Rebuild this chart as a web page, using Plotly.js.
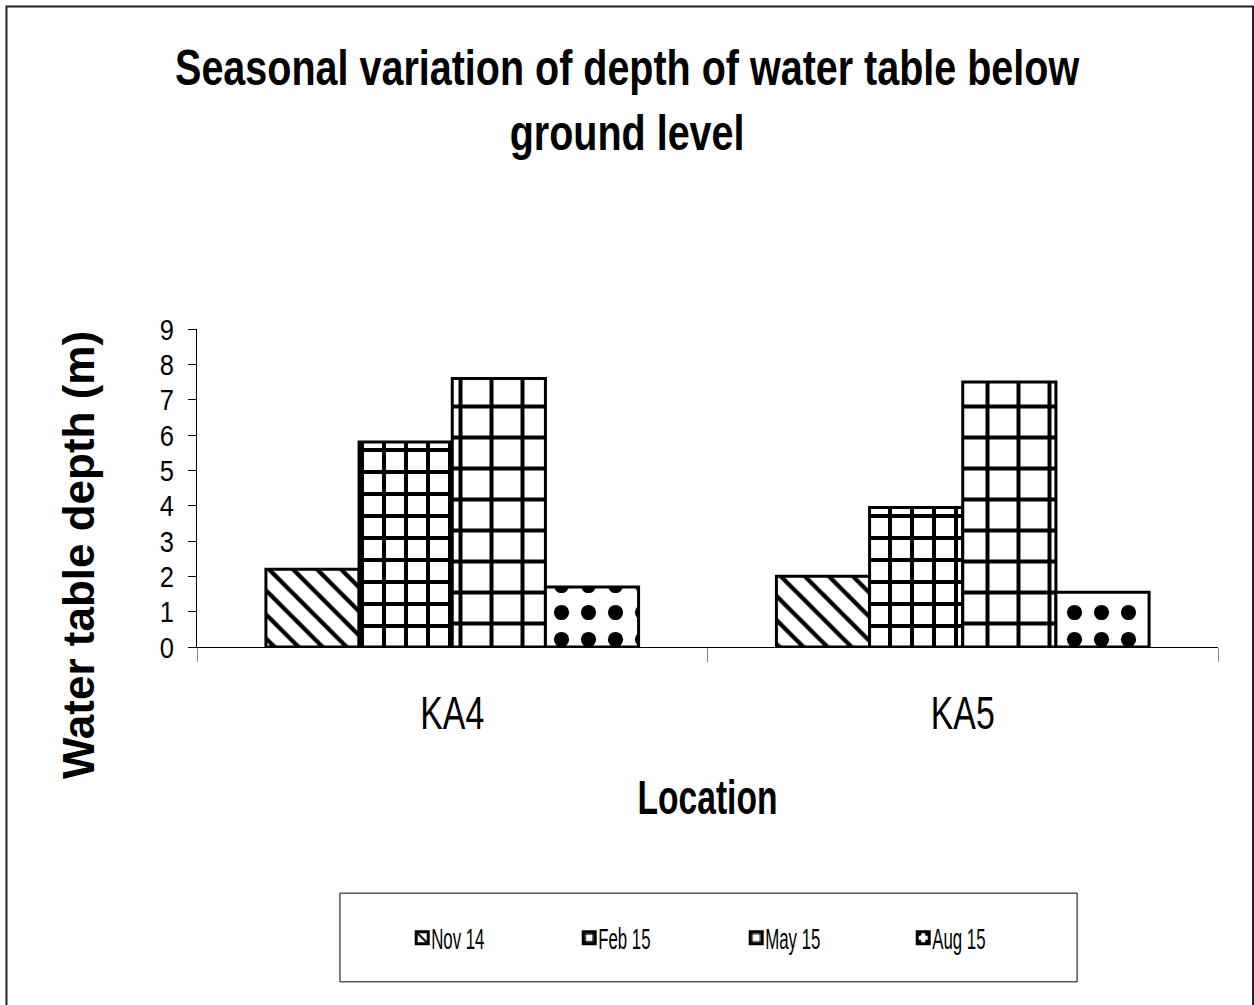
<!DOCTYPE html>
<html>
<head>
<meta charset="utf-8">
<script src="https://cdn.plot.ly/plotly-3.0.1.min.js"></script>
<style>
  html, body { margin: 0; padding: 0; background: #fff; overflow: hidden; }
  #chart { width: 1254px; height: 1005px; }
  /* the reference uses condensed lettering for the horizontal texts */
  #chart g.g-gtitle { transform-box: fill-box; transform-origin: 50% 50%; transform: scaleX(0.79); }
  #chart g.g-xtitle { transform-box: fill-box; transform-origin: 50% 50%; transform: scaleX(0.70); }
  #chart g.xtick { transform-box: fill-box; transform-origin: 50% 50%; transform: scaleX(0.72); }
  #chart g.ytick { transform-box: fill-box; transform-origin: 100% 50%; transform: scaleX(0.85); }
  #chart text.legendtext { transform-box: fill-box; transform-origin: 0% 50%; transform: translateX(-11px) scaleX(0.58); }
  #chart g.g-ytitle { transform: translate(0px, 67px); }
</style>
</head>
<body>
<div id="chart"></div>
<script>
const locations = ["KA4", "KA5"];
const seriesNames = ["Nov 14", "Feb 15", "May 15", "Aug 15"];
const nov14 = [2.2, 2.0];
const feb15 = [5.8, 3.95];
const may15 = [7.6, 7.5];
const aug15 = [1.7, 1.55];
const yTicks = [0, 1, 2, 3, 4, 5, 6, 7, 8, 9];

const sans = '"Liberation Sans", Arial, Helvetica, sans-serif';

const seriesValues = [nov14, feb15, may15, aug15];
const patterns = [
  {shape: "\\", size: 17, solidity: 0.25},
  {shape: "+", size: 22, solidity: 0.33},
  {shape: "+", size: 31, solidity: 0.24},
  {shape: ".", size: 27, solidity: 0.25}
];

const traces = seriesNames.map((name, i) => ({
  type: "bar",
  name: name,
  x: locations,
  y: seriesValues[i],
  marker: {
    color: "#ffffff",
    line: {color: "#000000", width: 3},
    pattern: Object.assign({fgcolor: "#000000", bgcolor: "#ffffff", fgopacity: 1, fillmode: "replace"}, patterns[i])
  },
  hoverinfo: "x+y+name"
}));

const layout = {
  width: 1254,
  height: 1005,
  paper_bgcolor: "#ffffff",
  plot_bgcolor: "#ffffff",
  margin: {l: 197, r: 36, t: 329, b: 358},
  barmode: "group",
  bargap: 0.27,
  bargroupgap: 0,
  showlegend: true,
  title: {
    text: "Seasonal variation of depth of water table below<br>ground level",
    font: {family: sans, size: 50, color: "#000000", weight: "bold"},
    x: 0.5, xref: "container", xanchor: "center",
    y: 0.915, yref: "container", yanchor: "top"
  },
  xaxis: {
    type: "category",
    showline: true, linecolor: "#000000", linewidth: 1,
    ticks: "outside", tickson: "boundaries", ticklen: 14, tickcolor: "#888888", tickwidth: 1,
    showgrid: false, zeroline: false,
    tickfont: {family: sans, size: 47, color: "#000000"},
    ticklabelstandoff: 25,
    title: {text: "Location", font: {family: sans, size: 48, color: "#000000", weight: "bold"}, standoff: 42}
  },
  yaxis: {
    range: [0, 9],
    tickvals: yTicks,
    ticktext: yTicks.map(String),
    showline: true, linecolor: "#000000", linewidth: 1,
    ticks: "outside", ticklen: 8, tickcolor: "#000000", tickwidth: 1,
    showgrid: false, zeroline: false,
    tickfont: {family: sans, size: 30, color: "#000000"},
    ticklabelstandoff: 8,
    title: {text: "Water table depth (m)", font: {family: sans, size: 44, color: "#000000", weight: "bold"}, standoff: 48}
  },
  legend: {
    orientation: "h",
    x: 0.201, xanchor: "left",
    y: -0.915, yanchor: "middle",
    font: {family: sans, size: 29, color: "#000000"},
    bgcolor: "rgba(0,0,0,0)",
    borderwidth: 0,
    entrywidth: 122, entrywidthmode: "pixels",
    itemwidth: 30,
    traceorder: "normal"
  },
  shapes: [
    {type: "rect", xref: "paper", yref: "paper", x0: 0.140, x1: 0.862, y0: -1.053, y1: -0.774,
     line: {color: "#000000", width: 1}, fillcolor: "rgba(0,0,0,0)", layer: "below"},
    {type: "rect", xref: "paper", yref: "paper", x0: -0.1866, x1: 1.0343, y0: -1.16, y1: 2.0142,
     line: {color: "#222222", width: 2}, fillcolor: "rgba(0,0,0,0)", layer: "below"}
  ]
};

Plotly.newPlot("chart", traces, layout, {displayModeBar: false, responsive: false});
</script>
</body>
</html>
